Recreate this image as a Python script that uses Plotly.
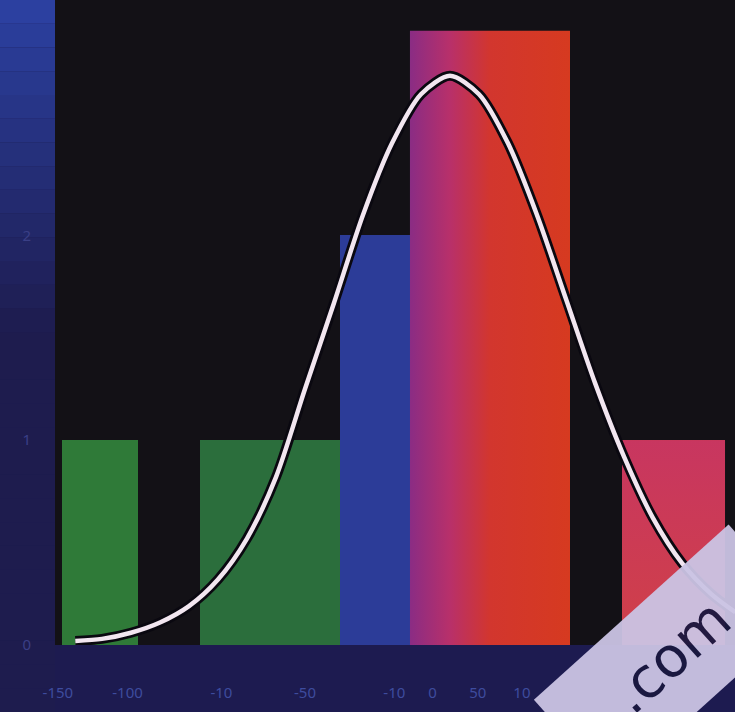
import plotly.graph_objects as go

# ---- data ----
bin_left = [-3.345, -2.155, -0.948, -0.345, 1.483]
bin_right = [-2.69, -0.948, -0.345, 1.034, 2.371]
counts = [1, 1, 2, 3, 1]
bar_colors = ["#2f7a38", "#2b6e3c", "#2c3c98", "#d3381f", "#c8384f"]

curve_x = [-3.23, -3.0, -2.75, -2.5, -2.25, -2.0, -1.75, -1.5, -1.25, -1.0,
           -0.75, -0.5, -0.25, 0.0, 0.25, 0.5, 0.75, 1.0, 1.25, 1.5,
           1.75, 2.0, 2.25, 2.46]
curve_y = [0.02, 0.03, 0.06, 0.11, 0.19, 0.32, 0.52, 0.82, 1.25, 1.67,
           2.10, 2.45, 2.69, 2.78, 2.69, 2.45, 2.10, 1.69, 1.28, 0.92,
           0.62, 0.40, 0.25, 0.16]

x_tick_vals = [-3.38, -2.78, -1.97, -1.25, -0.48, -0.15, 0.24, 0.62]
x_tick_text = ["-150", "-100", "-10", "-50", "-10", "0", "50", "10"]
y_tick_vals = [0, 1, 2]
y_tick_text = ["0", "1", "2"]

centers = [(a + b) / 2 for a, b in zip(bin_left, bin_right)]
widths = [b - a for a, b in zip(bin_left, bin_right)]

fig = go.Figure()

fig.add_trace(go.Bar(x=centers, y=counts, width=widths,
                     marker=dict(color=bar_colors, line=dict(width=0)),
                     showlegend=False, hoverinfo="skip"))

# gradient overlay for the tallest bar (magenta -> red)
i = 3
fig.add_trace(go.Scatter(
    x=[bin_left[i], bin_right[i], bin_right[i], bin_left[i], bin_left[i]],
    y=[0, 0, counts[i], counts[i], 0],
    mode="lines", line=dict(width=0), fill="toself",
    fillgradient=dict(type="horizontal",
                      colorscale=[[0, "#8a2c84"], [0.25, "#b8306a"],
                                  [0.5, "#d2362e"], [1, "#d63a20"]]),
    showlegend=False, hoverinfo="skip"))

# gradient overlay for the right bar
i = 4
fig.add_trace(go.Scatter(
    x=[bin_left[i], bin_right[i], bin_right[i], bin_left[i], bin_left[i]],
    y=[0, 0, counts[i], counts[i], 0],
    mode="lines", line=dict(width=0), fill="toself",
    fillgradient=dict(type="vertical",
                      colorscale=[[0, "#d04048"], [1, "#c83660"]]),
    showlegend=False, hoverinfo="skip"))

# curve shadow + curve
fig.add_trace(go.Scatter(x=curve_x, y=curve_y, mode="lines",
                         line=dict(color="#0a0810", width=10, shape="spline",
                                   smoothing=0.8),
                         showlegend=False, hoverinfo="skip"))
fig.add_trace(go.Scatter(x=curve_x, y=curve_y, mode="lines",
                         line=dict(color="#f2e6f0", width=4.5, shape="spline",
                                   smoothing=0.8),
                         showlegend=False, hoverinfo="skip"))

# left strip gradient (blue -> navy)
shapes = []
n = 30
top_c = (44, 64, 160)
bot_c = (30, 28, 78)
for k in range(n):
    t = min(1.0, k / (n * 0.45))
    c = tuple(int(top_c[j] + (bot_c[j] - top_c[j]) * t) for j in range(3))
    shapes.append(dict(type="rect", xref="paper", yref="paper",
                       x0=-55 / 680, x1=0, y0=1 - (k + 1) / n * (712 / 645),
                       y1=1 - k / n * (712 / 645),
                       fillcolor="rgb(%d,%d,%d)" % c, line=dict(width=0),
                       layer="below"))

fig.update_layout(
    width=735, height=712,
    margin=dict(l=55, r=0, t=0, b=67),
    paper_bgcolor="#1d1b50",
    plot_bgcolor="#131116",
    bargap=0,
    shapes=shapes,
    xaxis=dict(range=[-3.405, 2.457], showgrid=False, zeroline=False,
               showline=False, tickvals=x_tick_vals, ticktext=x_tick_text,
               ticks="outside", ticklen=34, tickcolor="rgba(0,0,0,0)",
               tickfont=dict(family="Noto Sans", size=15, color="#3e4c9e")),
    yaxis=dict(range=[0, 3.15], showgrid=False, zeroline=False,
               showline=False, tickvals=y_tick_vals, ticktext=y_tick_text,
               ticks="outside", ticklen=20, tickcolor="rgba(0,0,0,0)",
               tickfont=dict(family="Noto Sans", size=15, color="#3a3f86")),
    annotations=[dict(xref="paper", yref="paper",
                      x=(670 - 55) / 680, y=(645 - 656) / 645,
                      xanchor="center", yanchor="middle",
                      text="&nbsp;&nbsp;.com&nbsp;&nbsp;",
                      showarrow=False, textangle=-42,
                      font=dict(family="DejaVu Sans", size=56, color="#1a1840"),
                      bgcolor="#cbc4e4", borderpad=26, opacity=0.95)],
)

fig.write_html("out.html")
